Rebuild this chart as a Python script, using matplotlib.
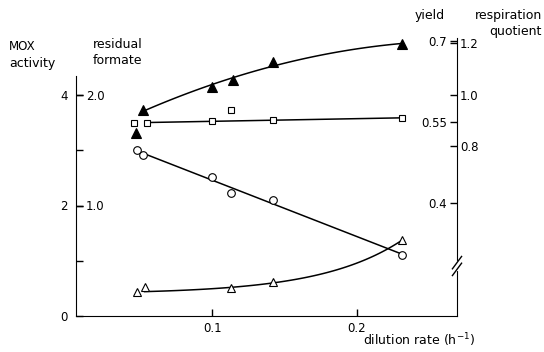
import numpy as np
import matplotlib
matplotlib.use("Agg")
import matplotlib.pyplot as plt

# ---- data ----
D_mox = [0.048, 0.052, 0.100, 0.113, 0.142, 0.231]
mox = [3.00, 2.91, 2.52, 2.23, 2.10, 1.10]

D_form = [0.048, 0.053, 0.113, 0.142, 0.231]
formate = [0.22, 0.26, 0.25, 0.31, 0.69]

D_yield = [0.046, 0.055, 0.100, 0.113, 0.142, 0.231]
yield_ = [0.549, 0.549, 0.553, 0.573, 0.554, 0.558]

D_rq = [0.047, 0.052, 0.100, 0.114, 0.142, 0.231]
rq = [0.85, 0.94, 1.03, 1.056, 1.126, 1.196]

x_ticks = [0.1, 0.2]
x_ticklabels = ["0.1", "0.2"]
mox_ticks = [0, 1, 2, 3, 4]
mox_ticklabels = ["0", "", "2", "", "4"]
form_ticks = [1.0, 2.0]
form_ticklabels = ["1.0", "2.0"]
yield_ticks = [0.4, 0.55, 0.7]
yield_ticklabels = ["0.4", "0.55", "0.7"]
rq_ticks = [0.8, 1.0, 1.2]
rq_ticklabels = ["0.8", "1.0", "1.2"]

plt.rcParams['font.family'] = ['DejaVu Sans']
FS = 8.5
FT = 9

fig = plt.figure(figsize=(5.44, 3.52), dpi=100)
W, H = 544.0, 352.0
x0, x1, yb, yt = 76, 457, 316, 35
rect = [x0 / W, (H - yb) / H, (x1 - x0) / W, (yb - yt) / H]

ax = fig.add_axes(rect)
ax.set_xlim(0.00554, 0.2692)
ax.set_ylim(0, (yb - yt) / 55.25)
for s in ['top', 'right']:
    ax.spines[s].set_visible(False)
ax.spines['left'].set_bounds(0, (yb - 76) / 55.25)
ax.set_xticks(x_ticks)
ax.set_xticklabels(x_ticklabels, fontsize=FS)
ax.set_yticks(mox_ticks)
ax.set_yticklabels(mox_ticklabels, fontsize=FS)
ax.tick_params(axis='both', direction='in', length=5, width=1, pad=4)
ax.tick_params(axis='y', pad=6)
ax.patch.set_visible(False)

# formate axis (inner labels on left spine)
axf = ax.twinx()
axf.set_position(rect)
axf.set_ylim(0, (yb - yt) / 55.25 / 2)
for s in ['top', 'left', 'bottom']:
    axf.spines[s].set_visible(False)
axf.spines['right'].set_position(('axes', 0))
axf.spines['right'].set_visible(False)
axf.set_yticks(form_ticks)
axf.set_yticklabels(form_ticklabels, fontsize=FS)
axf.tick_params(axis='y', direction='out', length=5, width=1, pad=2)

# RQ axis (right spine, labels right)
axr = ax.twinx()
axr.set_position(rect)
rq_lo = 1.2 - (yb - 43) / 257.5
rq_hi = 1.2 + (43 - yt) / 257.5
axr.set_ylim(rq_lo, rq_hi)
for s in ['top', 'left', 'bottom']:
    axr.spines[s].set_visible(False)
axr.spines['right'].set_bounds(rq_lo, 1.2 - (38 - 43) / 257.5)
axr.set_yticks(rq_ticks)
axr.set_yticklabels(rq_ticklabels, fontsize=FS)
axr.tick_params(axis='y', direction='in', length=5, width=1, pad=2)

# yield axis (labels left of right spine)
axy = ax.twinx()
axy.set_position(rect)
y_lo = 0.55 - (yb - 122.33) / 540
y_hi = 0.55 + (122.33 - yt) / 540
axy.set_ylim(y_lo, y_hi)
for s in ['top', 'right', 'bottom']:
    axy.spines[s].set_visible(False)
axy.spines['left'].set_position(('axes', 1.0))
axy.spines['left'].set_visible(False)
axy.yaxis.tick_left()
axy.set_yticks(yield_ticks)
axy.set_yticklabels(yield_ticklabels, fontsize=FS)
axy.tick_params(axis='y', direction='out', length=5, width=1, pad=2)

# ---- fitted lines ----
lw = 1.1
# MOX: straight fit
c = np.polyfit(D_mox, mox, 1)
xx = np.linspace(D_mox[1], D_mox[-1], 50)
ax.plot(xx, np.polyval(c, xx), color='black', lw=lw, zorder=2)
# formate: exponential rise above a baseline
base = 0.2
sel = [0, 2, 3, 4]
c = np.polyfit([D_form[i] for i in sel], np.log([formate[i] - base for i in sel]), 1)
xx = np.linspace(D_form[1], D_form[-1], 80)
axf.plot(xx, base + np.exp(np.polyval(c, xx)), color='black', lw=lw, zorder=2)
# yield: straight
sel = [0, 1, 2, 4, 5]
c = np.polyfit([D_yield[i] for i in sel], [yield_[i] for i in sel], 1)
xx = np.linspace(D_yield[1], D_yield[-1], 50)
axy.plot(xx, np.polyval(c, xx), color='black', lw=lw, zorder=2)
# RQ: curve
c = np.polyfit(D_rq[1:], rq[1:], 2)
xx = np.linspace(D_rq[1], D_rq[-1], 80)
axr.plot(xx, np.polyval(c, xx), color='black', lw=lw, zorder=2)

# ---- markers ----
ax.plot(D_mox, mox, 'o', ms=5.5, mfc='white', mec='black', mew=0.8, zorder=4, clip_on=False)
axf.plot(D_form, formate, '^', ms=5.5, mfc='white', mec='black', mew=0.8, zorder=4, clip_on=False)
axy.plot(D_yield, yield_, 's', ms=5, mfc='white', mec='black', mew=0.8, zorder=4, clip_on=False)
axr.plot(D_rq, rq, '^', ms=6.5, mfc='black', mec='black', mew=0.8, zorder=4, clip_on=False)

# ---- axis break on right spine ----
tr = axr.transAxes
by = (yb - 266) / (yb - yt)
axr.plot([1, 1], [by - 0.012, by + 0.012], color='white', lw=3, transform=tr, clip_on=False, zorder=5)
for d in (-0.012, 0.012):
    axr.plot([1 - 0.012, 1 + 0.012], [by + d - 0.022, by + d + 0.022], color='black', lw=1,
             transform=tr, clip_on=False, zorder=6)

# ---- axis titles ----
def ftext(x, y, s, ha='left', fs=FT):
    fig.text(x / W, 1 - y / H, s, ha=ha, va='center', fontsize=fs)

ftext(9, 47, "MOX", fs=8.5)
ftext(9, 63, "activity")
ftext(93, 45, "residual")
ftext(93, 60, "formate")
ftext(415, 16, "yield")
ftext(542, 16, "respiration", ha='right')
ftext(542, 32, "quotient", ha='right')
ftext(363, 340, "dilution rate (h$^{-1}$)")

fig.savefig("out.png", dpi=100)
